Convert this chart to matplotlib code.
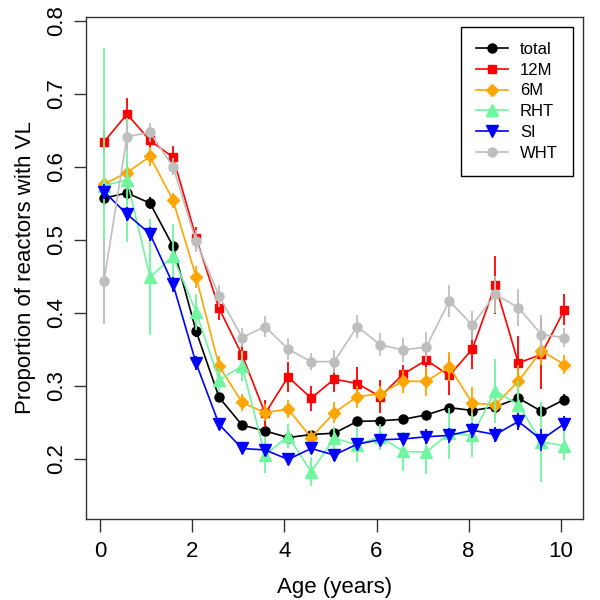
import matplotlib
matplotlib.use('Agg')
import matplotlib.pyplot as plt

plt.rcParams['font.family'] = ['Liberation Sans', 'DejaVu Sans']

age = [0.08, 0.58, 1.08, 1.58, 2.08, 2.58, 3.08, 3.58, 4.08, 4.58, 5.08,
       5.58, 6.08, 6.58, 7.08, 7.58, 8.08, 8.58, 9.08, 9.58, 10.08]

total = [0.557, 0.564, 0.550, 0.491, 0.375, 0.284, 0.246, 0.238, 0.229, 0.233, 0.235,
         0.251, 0.252, 0.254, 0.260, 0.270, 0.266, 0.271, 0.283, 0.265, 0.281]
m12 = [0.634, 0.672, 0.636, 0.613, 0.503, 0.406, 0.342, 0.262, 0.312, 0.283, 0.309,
       0.303, 0.285, 0.316, 0.335, 0.314, 0.350, 0.438, 0.331, 0.343, 0.404]
m6 = [0.576, 0.592, 0.614, 0.554, 0.449, 0.327, 0.277, 0.263, 0.268, 0.229, 0.263,
      0.285, 0.289, 0.306, 0.306, 0.326, 0.276, 0.274, 0.306, 0.348, 0.329]
rht = [0.574, 0.582, 0.449, 0.477, 0.401, 0.308, 0.327, 0.205, 0.231, 0.182, 0.228,
       0.219, 0.230, 0.210, 0.209, 0.235, 0.232, 0.293, 0.274, 0.223, 0.218]
si = [0.566, 0.535, 0.508, 0.439, 0.331, 0.247, 0.214, 0.212, 0.199, 0.214, 0.205,
      0.220, 0.226, 0.227, 0.230, 0.232, 0.239, 0.233, 0.251, 0.226, 0.248]
wht = [0.443, 0.641, 0.647, 0.600, 0.498, 0.423, 0.366, 0.381, 0.350, 0.333, 0.333,
       0.381, 0.356, 0.349, 0.353, 0.416, 0.383, 0.425, 0.407, 0.370, 0.366]

# half widths of the error bars
total_err = [0.010, 0.010, 0.008, 0.008, 0.008, 0.006, 0.005, 0.005, 0.005, 0.005, 0.005,
             0.005, 0.005, 0.005, 0.005, 0.005, 0.006, 0.006, 0.007, 0.007, 0.008]
m12_err = [0.015, 0.022, 0.012, 0.015, 0.015, 0.016, 0.015, 0.018, 0.020, 0.017, 0.017,
           0.022, 0.023, 0.013, 0.020, 0.027, 0.027, 0.040, 0.037, 0.048, 0.021]
m6_err = [0.012, 0.012, 0.013, 0.010, 0.015, 0.013, 0.011, 0.012, 0.012, 0.010, 0.014,
          0.015, 0.010, 0.016, 0.020, 0.020, 0.022, 0.020, 0.023, 0.020, 0.013]
rht_err = [0.188, 0.085, 0.080, 0.045, 0.025, 0.016, 0.020, 0.025, 0.016, 0.020, 0.016,
           0.024, 0.018, 0.027, 0.030, 0.035, 0.030, 0.044, 0.033, 0.055, 0.020]
si_err = [0.010, 0.010, 0.010, 0.010, 0.010, 0.008, 0.008, 0.008, 0.008, 0.008, 0.008,
          0.008, 0.008, 0.008, 0.010, 0.010, 0.010, 0.010, 0.012, 0.015, 0.010]
wht_err = [0.058, 0.020, 0.013, 0.012, 0.015, 0.015, 0.013, 0.014, 0.015, 0.012, 0.016,
           0.016, 0.016, 0.016, 0.020, 0.022, 0.020, 0.025, 0.025, 0.027, 0.013]

series = [
    ('total', total, total_err, 'black', 'o', 6.5),
    ('12M', m12, m12_err, '#ff0000', 's', 6.0),
    ('6M', m6, m6_err, '#ffa500', 'D', 6.0),
    ('RHT', rht, rht_err, '#70f5a0', '^', 8.5),
    ('SI', si, si_err, '#0000ff', 'v', 8.5),
    ('WHT', wht, wht_err, '#bebebe', 'o', 6.5),
]

fig = plt.figure(figsize=(6, 6), dpi=100)
ax = fig.add_axes([0.1428, 0.1355, 0.8288, 0.8367])

for i, (name, vals, err, col, mk, ms) in enumerate(series):
    lo = [v - e for v, e in zip(vals, err)]
    hi = [v + e for v, e in zip(vals, err)]
    ax.vlines(age, lo, hi, color=col, lw=1.3, zorder=2 + i)
    ax.plot(age, vals, color=col, lw=1.2, marker=mk, ms=ms, mec=col, mfc=col,
            label=name, zorder=2 + i)

ax.set_xlim(-0.317, 10.483)
ax.set_ylim(0.1178, 0.8055)
ax.set_xticks([0, 2, 4, 6, 8, 10])
ax.set_yticks([0.2, 0.3, 0.4, 0.5, 0.6, 0.7, 0.8])
ax.set_yticklabels(['0.2', '0.3', '0.4', '0.5', '0.6', '0.7', '0.8'], rotation=90, va='center')
ax.tick_params(labelsize=16, length=9, width=1, color='#333333')
ax.tick_params(axis='x', pad=7)
ax.tick_params(axis='y', pad=4)
for s in ax.spines.values():
    s.set_color('#333333')
    s.set_linewidth(1)

ax.set_xlabel('Age (years)', fontsize=16, labelpad=11)
ax.set_ylabel('Proportion of reactors with VL', fontsize=16, labelpad=8)

leg = ax.legend(loc='upper right', fontsize=12, fancybox=False, edgecolor='black',
                framealpha=1, handlelength=1.9, handletextpad=0.75, labelspacing=0.35,
                borderaxespad=0.6, borderpad=0.9)
leg.get_frame().set_linewidth(1)

fig.savefig('out.png', dpi=100)
